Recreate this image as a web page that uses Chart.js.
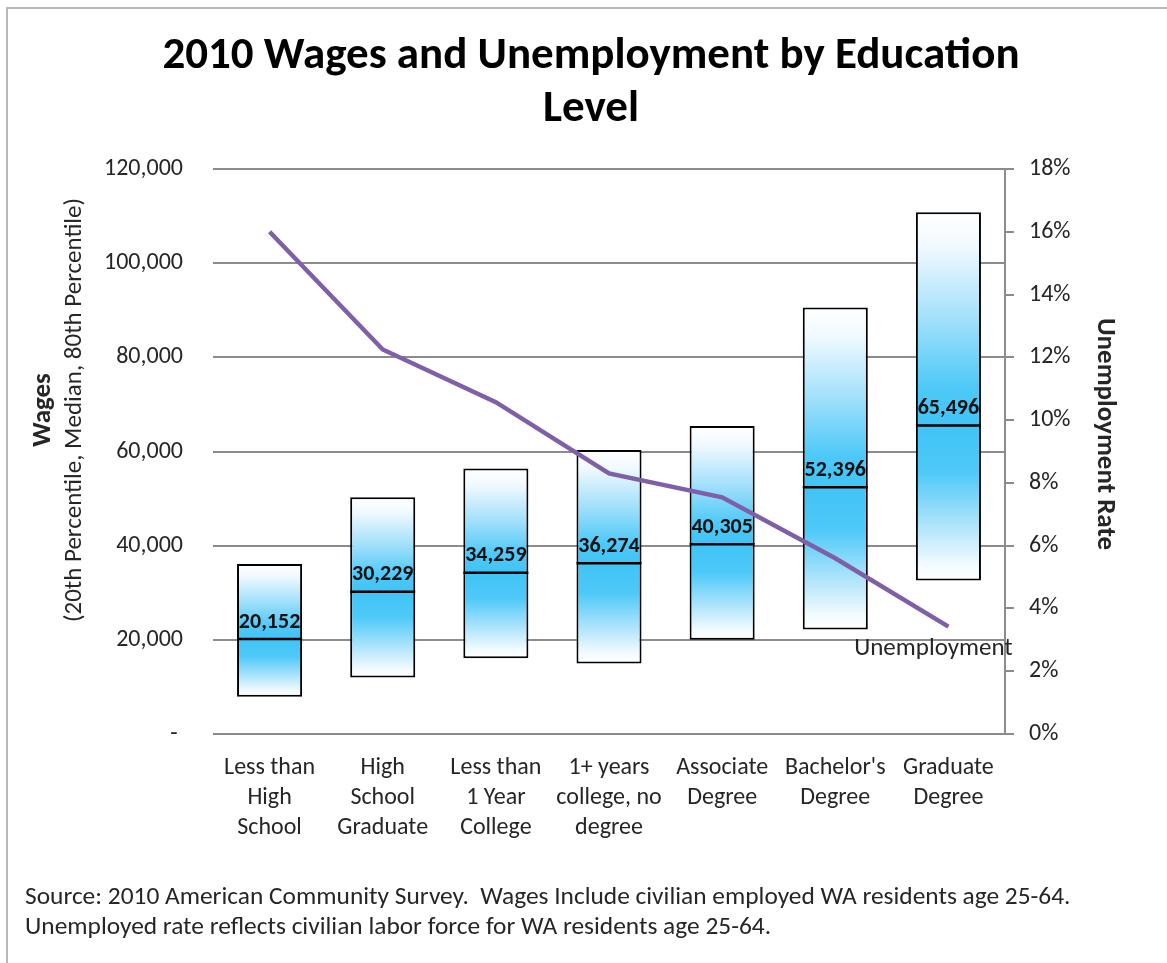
<!DOCTYPE html>
<html>
<head>
<meta charset="utf-8">
<script src="https://cdn.jsdelivr.net/npm/chart.js@4/dist/chart.umd.min.js"></script>
<style>
  html, body { margin: 0; padding: 0; background: #ffffff; }
  #wrap { width: 1167px; height: 963px; }
</style>
</head>
<body>
<div id="wrap"><canvas id="c" width="1167" height="963"></canvas></div>
<script>
// ---- data ----
const categories = [
  ["Less than", "High", "School"],
  ["High", "School", "Graduate"],
  ["Less than", "1 Year", "College"],
  ["1+ years", "college, no", "degree"],
  ["Associate", "Degree"],
  ["Bachelor's", "Degree"],
  ["Graduate", "Degree"]
];
const wage20th  = [7900, 12000, 16100, 15000, 20000, 22200, 32600];
const wageMedian = [20152, 30229, 34259, 36274, 40305, 52396, 65496];
const wage80th  = [36100, 50300, 56400, 60300, 65400, 90600, 110800];
const unemploymentRate = [0.160, 0.1225, 0.1057, 0.083, 0.0754, 0.056, 0.0342];

const wageTicks = [0, 20000, 40000, 60000, 80000, 100000, 120000];
const rateTicks = [0, 0.02, 0.04, 0.06, 0.08, 0.10, 0.12, 0.14, 0.16, 0.18];

const titleLines = ["2010 Wages and Unemployment by Education", "Level"];
const leftTitle = "Wages";
const leftSubtitle = "(20th Percentile, Median, 80th Percentile)";
const rightTitle = "Unemployment Rate";
const lineLabel = "Unemployment";
const sourceLines = [
  "Source: 2010 American Community Survey.  Wages Include civilian employed WA residents age 25-64.",
  "Unemployed rate reflects civilian labor force for WA residents age 25-64."
];

// ---- styling ----
const FONT = "Carlito, Lato, 'Open Sans', sans-serif";
const TEXT = "#262626";
const BLUE = "#40c4f6";
const GRID = "#8c8c8c";

function fmtWage(v) {
  if (v === 0) return "- ";
  return v.toLocaleString("en-US");
}

function gradFor(chart, fromVal, toVal, stops) {
  const ca = chart.chartArea;
  if (!ca) return BLUE;
  const y = chart.scales.y;
  const y0 = y.getPixelForValue(fromVal);
  const y1 = y.getPixelForValue(toVal);
  const g = chart.ctx.createLinearGradient(0, y0, 0, y1);
  stops.forEach(s => g.addColorStop(s[0], s[1]));
  return g;
}

const upperStops = [[0, "#ffffff"], [0.15, "#f2faff"], [0.5, "#a2e0fb"], [0.82, "#4ec9f8"], [1, BLUE]];
const lowerStops = [[0, BLUE], [0.3, "#4ec9f8"], [0.65, "#b0e5fb"], [0.9, "#f3fbff"], [1, "#ffffff"]];

const decorPlugin = {
  id: "decor",
  afterDatasetsDraw(chart) {
    const ctx = chart.ctx;
    const xs = chart.scales.x;
    const ys = chart.scales.y;
    const meta = chart.getDatasetMeta(1);
    ctx.save();
    // median lines
    ctx.strokeStyle = "#000000";
    ctx.lineWidth = 2.5;
    meta.data.forEach((el, i) => {
      const yy = ys.getPixelForValue(wageMedian[i]);
      ctx.beginPath();
      ctx.moveTo(el.x - el.width / 2, yy);
      ctx.lineTo(el.x + el.width / 2, yy);
      ctx.stroke();
    });
    // median labels
    ctx.font = "bold 22px " + FONT;
    ctx.fillStyle = "#111111";
    ctx.textAlign = "center";
    ctx.textBaseline = "bottom";
    wageMedian.forEach((v, i) => {
      ctx.fillText(v.toLocaleString("en-US"), xs.getPixelForValue(i), ys.getPixelForValue(v) - 6);
    });
    // line label
    const y1 = chart.scales.y1;
    const last = unemploymentRate.length - 1;
    ctx.font = "25px " + FONT;
    ctx.fillStyle = TEXT;
    ctx.textBaseline = "middle";
    ctx.fillText(lineLabel, xs.getPixelForValue(last) - 15, y1.getPixelForValue(unemploymentRate[last]) + 22);
    ctx.restore();
  },
  afterDraw(chart) {
    const ctx = chart.ctx;
    const W = chart.width, H = chart.height;
    ctx.save();
    // outer frame (left + top)
    ctx.strokeStyle = "#b8b8b8";
    ctx.lineWidth = 2;
    ctx.beginPath();
    ctx.moveTo(7, H);
    ctx.lineTo(7, 8);
    ctx.lineTo(W, 8);
    ctx.stroke();
    // title
    ctx.fillStyle = "#000000";
    ctx.font = "bold 45px " + FONT;
    ctx.textAlign = "center";
    ctx.textBaseline = "middle";
    ctx.fillText(titleLines[0], 591, 57);
    ctx.fillText(titleLines[1], 591, 110);
    // left axis titles
    ctx.fillStyle = TEXT;
    ctx.save();
    ctx.translate(43, 410);
    ctx.rotate(-Math.PI / 2);
    ctx.font = "bold 27px " + FONT;
    ctx.fillText(leftTitle, 0, 0);
    ctx.restore();
    ctx.save();
    ctx.translate(75, 410);
    ctx.rotate(-Math.PI / 2);
    ctx.font = "25px " + FONT;
    ctx.fillText(leftSubtitle, 0, 0);
    ctx.restore();
    // right axis title
    ctx.save();
    ctx.translate(1105, 434);
    ctx.rotate(Math.PI / 2);
    ctx.font = "bold 27px " + FONT;
    ctx.fillText(rightTitle, 0, 0);
    ctx.restore();
    // source
    ctx.font = "25.4px " + FONT;
    ctx.textAlign = "left";
    ctx.fillText(sourceLines[0], 25, 898);
    ctx.fillText(sourceLines[1], 25, 928);
    ctx.restore();
  }
};

new Chart(document.getElementById("c"), {
  data: {
    labels: categories,
    datasets: [
      {
        type: "line",
        label: "Unemployment",
        data: unemploymentRate,
        yAxisID: "y1",
        borderColor: "#7f60a8",
        borderWidth: 4.5,
        pointRadius: 0,
        tension: 0,
        order: 0
      },
      {
        type: "bar",
        label: "Lower",
        data: wage20th.map((v, i) => [v, wageMedian[i]]),
        yAxisID: "y",
        grouped: false,
        barPercentage: 0.575,
        categoryPercentage: 1,
        borderColor: "#000000",
        borderSkipped: false,
        borderWidth: { top: 0, left: 2, right: 2, bottom: 2 },
        backgroundColor: (c) => c.type === "data" ? gradFor(c.chart, wageMedian[c.dataIndex], wage20th[c.dataIndex], lowerStops) : BLUE,
        order: 1
      },
      {
        type: "bar",
        label: "Upper",
        data: wageMedian.map((v, i) => [v, wage80th[i]]),
        yAxisID: "y",
        grouped: false,
        barPercentage: 0.575,
        categoryPercentage: 1,
        borderColor: "#000000",
        borderSkipped: false,
        borderWidth: { top: 2, left: 2, right: 2, bottom: 0 },
        backgroundColor: (c) => c.type === "data" ? gradFor(c.chart, wage80th[c.dataIndex], wageMedian[c.dataIndex], upperStops) : BLUE,
        order: 1
      }
    ]
  },
  options: {
    responsive: false,
    animation: false,
    layout: { padding: { top: 169, left: 0, right: 0, bottom: 0 } },
    plugins: {
      legend: { display: false },
      tooltip: { enabled: false },
      title: { display: false }
    },
    scales: {
      x: {
        type: "category",
        offset: true,
        grid: { display: false, drawTicks: false },
        border: { display: false },
        ticks: {
          font: { family: FONT, size: 24, lineHeight: 1.25 },
          color: TEXT,
          padding: 19,
          maxRotation: 0,
          autoSkip: false
        },
        afterFit: (s) => { s.height = 229; }
      },
      y: {
        position: "left",
        min: 0,
        max: 120000,
        afterBuildTicks: (s) => { s.ticks = wageTicks.map(v => ({ value: v })); },
        grid: { color: GRID, lineWidth: 2, drawTicks: false },
        border: { display: false },
        ticks: {
          font: { family: FONT, size: 24 },
          color: TEXT,
          padding: 30,
          callback: (v) => fmtWage(v)
        },
        afterFit: (s) => { s.width = 213; }
      },
      y1: {
        position: "right",
        min: 0,
        max: 0.18,
        afterBuildTicks: (s) => { s.ticks = rateTicks.map(v => ({ value: v })); },
        grid: { drawOnChartArea: false, drawTicks: true, tickLength: 9, color: GRID, lineWidth: 2 },
        border: { display: true, color: GRID, width: 2 },
        ticks: {
          font: { family: FONT, size: 24 },
          color: TEXT,
          padding: 15,
          callback: (v) => Math.round(v * 100) + "%"
        },
        afterFit: (s) => { s.width = 162; }
      }
    }
  },
  plugins: [decorPlugin]
});
</script>
</body>
</html>
